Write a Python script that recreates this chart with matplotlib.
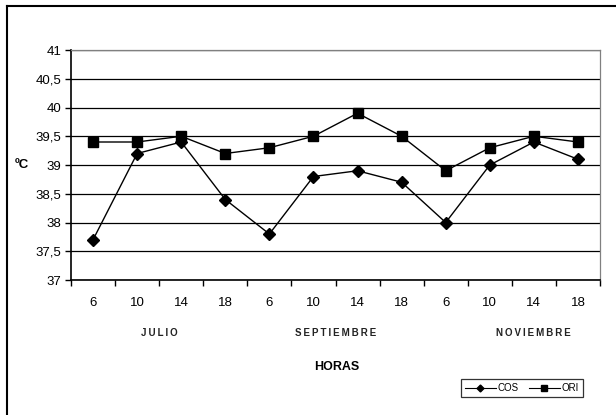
import matplotlib.pyplot as plt
from matplotlib.lines import Line2D
from matplotlib.ticker import FixedLocator, FuncFormatter, NullFormatter

# datos
horas = ['6', '10', '14', '18', '6', '10', '14', '18', '6', '10', '14', '18']
meses = ['JULIO', 'SEPTIEMBRE', 'NOVIEMBRE']
pos_meses = [1.5, 5.5, 10.0]
cos = [37.7, 39.2, 39.4, 38.4, 37.8, 38.8, 38.9, 38.7, 38.0, 39.0, 39.4, 39.1]
ori = [39.4, 39.4, 39.5, 39.2, 39.3, 39.5, 39.9, 39.5, 38.9, 39.3, 39.5, 39.4]
yticks = [37, 37.5, 38, 38.5, 39, 39.5, 40, 40.5, 41]

plt.rcParams['font.family'] = ['Liberation Sans', 'DejaVu Sans']

W, H = 616, 415
fig = plt.figure(figsize=(W / 100, H / 100), dpi=100)
ax = fig.add_axes([71 / W, 1 - 280 / H, (600 - 71) / W, (280 - 50) / H])

x = list(range(len(horas)))
ax.plot(x, cos, color='black', lw=1.0, marker='D', ms=6.5, label='COS', zorder=3)
ax.plot(x, ori, color='black', lw=1.0, marker='s', ms=6.5, label='ORI', zorder=3)

ax.set_ylim(37, 41)
ax.set_xlim(-0.5, len(horas) - 0.5)
ax.set_yticks(yticks)
ax.yaxis.set_major_formatter(FuncFormatter(lambda v, p: f'{v:g}'.replace('.', ',')))
ax.grid(axis='y', color='black', lw=0.9)
ax.set_axisbelow(True)

ax.xaxis.set_major_locator(FixedLocator([i - 0.5 for i in range(len(horas) + 1)]))
ax.xaxis.set_major_formatter(NullFormatter())
ax.xaxis.set_minor_locator(FixedLocator(x))
ax.set_xticklabels(horas, minor=True)
ax.tick_params(axis='x', which='major', direction='out', length=4, width=1)
ax.tick_params(axis='x', which='minor', length=0, pad=12, labelsize=9.5)
ax.tick_params(axis='y', direction='out', length=4, width=1, labelsize=9.5, pad=3)

for s in ['left', 'bottom']:
    ax.spines[s].set_color('black')
    ax.spines[s].set_linewidth(1.2)
for s in ['top', 'right']:
    ax.spines[s].set_color('#808080')
    ax.spines[s].set_linewidth(0.9)

for m, p in zip(meses, pos_meses):
    ax.text(p, 36.07, '\u2009'.join(m), ha='center', va='center', fontsize=7,
            fontweight='bold', color='#222222')

fig.text(337 / W, 1 - 367 / H, 'HORAS', ha='center', va='center',
         fontsize=9, fontweight='bold')
fig.text(22 / W, 1 - 165 / H, 'ºC', ha='center', va='center',
         fontsize=9.5, fontweight='bold')

leg = fig.legend(handles=[
    Line2D([], [], color='black', lw=0.8, marker='D', ms=3.5, label='COS'),
    Line2D([], [], color='black', lw=0.8, marker='s', ms=4, label='ORI')],
    ncol=2, loc='center', bbox_to_anchor=(522 / W, 1 - 388 / H),
    fontsize=7, frameon=True, fancybox=False, edgecolor='black',
    handlelength=3.2, columnspacing=1.0, handletextpad=0.2, borderpad=0.45)
leg.get_frame().set_linewidth(0.9)

# marco exterior
fig.add_artist(Line2D([7 / W, 7 / W], [0, 1 - 6 / H], color='black', lw=1.5))
fig.add_artist(Line2D([7 / W, 1], [1 - 6 / H, 1 - 6 / H], color='black', lw=1.5))

fig.savefig('out.png', dpi=100)
